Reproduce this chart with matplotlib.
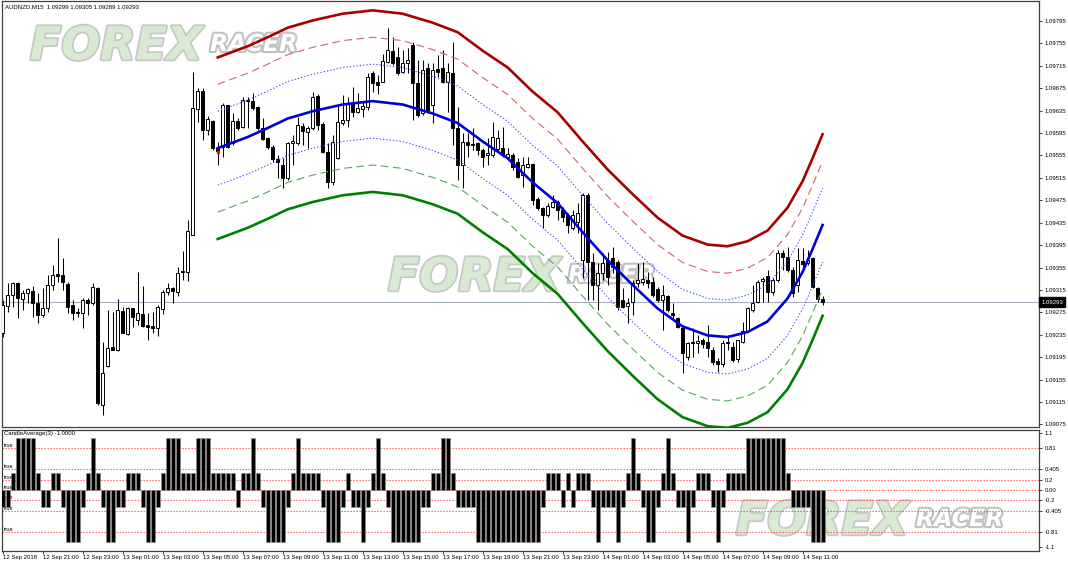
import numpy as np
import matplotlib
matplotlib.use("Agg")
import matplotlib.pyplot as plt
import matplotlib.patheffects as pe
import matplotlib.transforms as mtransforms

plt.rcParams["font.family"] = ["Liberation Sans Narrow", "Liberation Sans", "DejaVu Sans"]

symbol_title = "AUDNZD,M15  1.09299 1.09305 1.09289 1.09293"
indicator_title = "CandleAverage(3) -1.0000"
last_price = 1.09293

# M15 candles, 12 Sep 2018 19:00 .. 14 Sep 2018 12:00
opens = [
    1.09238, 1.09286, 1.09306, 1.09327, 1.09299, 1.09309, 1.09313, 1.09291, 1.09270, 1.09283,
    1.09324, 1.09343, 1.09341, 1.09325, 1.09288, 1.09275, 1.09274, 1.09297, 1.09291, 1.09318,
    1.09109, 1.09179, 1.09213, 1.09208, 1.09277, 1.09236, 1.09283, 1.09261, 1.09272, 1.09252,
    1.09250, 1.09247, 1.09281, 1.09311, 1.09318, 1.09311, 1.09349, 1.09347, 1.09413, 1.09638,
    1.09670, 1.09600, 1.09616, 1.09568, 1.09570, 1.09645, 1.09577, 1.09616, 1.09605, 1.09652,
    1.09652, 1.09641, 1.09604, 1.09586, 1.09570, 1.09548, 1.09538, 1.09514, 1.09577, 1.09577,
    1.09607, 1.09597, 1.09604, 1.09661, 1.09611, 1.09561, 1.09507, 1.09550, 1.09613, 1.09618,
    1.09648, 1.09632, 1.09638, 1.09641, 1.09702, 1.09686, 1.09686, 1.09721, 1.09741, 1.09730,
    1.09704, 1.09720, 1.09752, 1.09684, 1.09630, 1.09711, 1.09645, 1.09709, 1.09711, 1.09686,
    1.09702, 1.09604, 1.09538, 1.09579, 1.09575, 1.09577, 1.09564, 1.09555, 1.09555, 1.09566,
    1.09568, 1.09552, 1.09555, 1.09543, 1.09520, 1.09534, 1.09539, 1.09477, 1.09461, 1.09448,
    1.09463, 1.09472, 1.09457, 1.09448, 1.09425, 1.09436, 1.09368, 1.09484, 1.09365, 1.09324,
    1.09345, 1.09368, 1.09372, 1.09365, 1.09297, 1.09286, 1.09293, 1.09327, 1.09329, 1.09333,
    1.09329, 1.09316, 1.09297, 1.09304, 1.09274, 1.09265, 1.09247, 1.09195, 1.09222, 1.09220,
    1.09225, 1.09222, 1.09208, 1.09188, 1.09183, 1.09220, 1.09213, 1.09192, 1.09222, 1.09242,
    1.09279, 1.09293, 1.09331, 1.09340, 1.09311, 1.09333, 1.09381, 1.09374, 1.09350, 1.09324,
    1.09366, 1.09363, 1.09372, 1.09318, 1.09299,
]
highs = [
    1.09297, 1.09327, 1.09329, 1.09329, 1.09315, 1.09318, 1.09322, 1.09309, 1.09318, 1.09341,
    1.09359, 1.09407, 1.09372, 1.09329, 1.09297, 1.09283, 1.09300, 1.09300, 1.09327, 1.09320,
    1.09222, 1.09279, 1.09275, 1.09299, 1.09284, 1.09284, 1.09283, 1.09347, 1.09322, 1.09274,
    1.09275, 1.09288, 1.09315, 1.09327, 1.09320, 1.09356, 1.09384, 1.09440, 1.09704, 1.09675,
    1.09675, 1.09625, 1.09618, 1.09579, 1.09648, 1.09646, 1.09630, 1.09622, 1.09659, 1.09659,
    1.09666, 1.09643, 1.09622, 1.09588, 1.09573, 1.09555, 1.09550, 1.09579, 1.09591, 1.09623,
    1.09613, 1.09607, 1.09668, 1.09664, 1.09614, 1.09577, 1.09591, 1.09645, 1.09663, 1.09659,
    1.09677, 1.09666, 1.09652, 1.09702, 1.09705, 1.09698, 1.09737, 1.09782, 1.09766, 1.09748,
    1.09743, 1.09746, 1.09757, 1.09725, 1.09725, 1.09720, 1.09720, 1.09734, 1.09743, 1.09720,
    1.09757, 1.09641, 1.09595, 1.09595, 1.09604, 1.09579, 1.09568, 1.09586, 1.09614, 1.09600,
    1.09605, 1.09568, 1.09559, 1.09550, 1.09552, 1.09552, 1.09541, 1.09481, 1.09463, 1.09470,
    1.09484, 1.09475, 1.09463, 1.09452, 1.09457, 1.09470, 1.09488, 1.09488, 1.09381, 1.09363,
    1.09381, 1.09382, 1.09391, 1.09368, 1.09318, 1.09300, 1.09333, 1.09363, 1.09365, 1.09347,
    1.09338, 1.09320, 1.09324, 1.09306, 1.09291, 1.09266, 1.09249, 1.09222, 1.09247, 1.09234,
    1.09229, 1.09252, 1.09213, 1.09193, 1.09225, 1.09234, 1.09222, 1.09225, 1.09258, 1.09284,
    1.09324, 1.09333, 1.09338, 1.09350, 1.09336, 1.09386, 1.09386, 1.09391, 1.09356, 1.09390,
    1.09390, 1.09386, 1.09374, 1.09320, 1.09305,
]
lows = [
    1.09231, 1.09275, 1.09284, 1.09265, 1.09279, 1.09291, 1.09266, 1.09256, 1.09266, 1.09275,
    1.09315, 1.09329, 1.09315, 1.09274, 1.09261, 1.09266, 1.09247, 1.09270, 1.09288, 1.09109,
    1.09092, 1.09177, 1.09208, 1.09206, 1.09238, 1.09234, 1.09249, 1.09252, 1.09249, 1.09225,
    1.09238, 1.09233, 1.09272, 1.09306, 1.09291, 1.09304, 1.09333, 1.09331, 1.09413, 1.09614,
    1.09582, 1.09591, 1.09564, 1.09538, 1.09552, 1.09568, 1.09573, 1.09600, 1.09604, 1.09604,
    1.09636, 1.09600, 1.09582, 1.09566, 1.09543, 1.09514, 1.09497, 1.09511, 1.09538, 1.09573,
    1.09573, 1.09568, 1.09600, 1.09600, 1.09559, 1.09497, 1.09502, 1.09548, 1.09609, 1.09605,
    1.09623, 1.09630, 1.09623, 1.09636, 1.09668, 1.09664, 1.09686, 1.09720, 1.09716, 1.09698,
    1.09702, 1.09702, 1.09618, 1.09623, 1.09627, 1.09630, 1.09613, 1.09695, 1.09684, 1.09632,
    1.09573, 1.09511, 1.09497, 1.09552, 1.09564, 1.09555, 1.09534, 1.09538, 1.09552, 1.09561,
    1.09552, 1.09547, 1.09529, 1.09514, 1.09498, 1.09532, 1.09466, 1.09457, 1.09425, 1.09445,
    1.09461, 1.09440, 1.09436, 1.09416, 1.09422, 1.09416, 1.09336, 1.09297, 1.09297, 1.09279,
    1.09333, 1.09324, 1.09345, 1.09279, 1.09283, 1.09256, 1.09270, 1.09320, 1.09324, 1.09318,
    1.09302, 1.09293, 1.09243, 1.09275, 1.09265, 1.09247, 1.09167, 1.09190, 1.09195, 1.09202,
    1.09211, 1.09195, 1.09181, 1.09168, 1.09177, 1.09208, 1.09186, 1.09186, 1.09220, 1.09240,
    1.09275, 1.09291, 1.09293, 1.09293, 1.09306, 1.09329, 1.09350, 1.09347, 1.09302, 1.09311,
    1.09356, 1.09359, 1.09318, 1.09293, 1.09289,
]
closes = [
    1.09288, 1.09306, 1.09327, 1.09300, 1.09309, 1.09316, 1.09291, 1.09270, 1.09283, 1.09324,
    1.09341, 1.09340, 1.09329, 1.09284, 1.09274, 1.09274, 1.09297, 1.09291, 1.09320, 1.09113,
    1.09167, 1.09211, 1.09208, 1.09279, 1.09238, 1.09283, 1.09266, 1.09274, 1.09250, 1.09249,
    1.09247, 1.09284, 1.09311, 1.09318, 1.09313, 1.09345, 1.09347, 1.09420, 1.09639, 1.09670,
    1.09600, 1.09620, 1.09568, 1.09563, 1.09645, 1.09570, 1.09616, 1.09604, 1.09654, 1.09654,
    1.09639, 1.09604, 1.09584, 1.09570, 1.09548, 1.09543, 1.09514, 1.09577, 1.09580, 1.09609,
    1.09598, 1.09604, 1.09659, 1.09609, 1.09561, 1.09507, 1.09579, 1.09614, 1.09618, 1.09648,
    1.09632, 1.09639, 1.09643, 1.09695, 1.09684, 1.09680, 1.09723, 1.09743, 1.09720, 1.09702,
    1.09720, 1.09725, 1.09684, 1.09627, 1.09707, 1.09636, 1.09707, 1.09704, 1.09686, 1.09704,
    1.09604, 1.09538, 1.09579, 1.09573, 1.09573, 1.09564, 1.09552, 1.09559, 1.09588, 1.09586,
    1.09555, 1.09557, 1.09534, 1.09516, 1.09538, 1.09539, 1.09475, 1.09461, 1.09448, 1.09464,
    1.09472, 1.09457, 1.09445, 1.09431, 1.09448, 1.09452, 1.09484, 1.09365, 1.09324, 1.09345,
    1.09363, 1.09338, 1.09356, 1.09284, 1.09284, 1.09291, 1.09327, 1.09333, 1.09334, 1.09327,
    1.09306, 1.09297, 1.09306, 1.09279, 1.09270, 1.09249, 1.09202, 1.09220, 1.09220, 1.09224,
    1.09218, 1.09211, 1.09186, 1.09183, 1.09220, 1.09222, 1.09190, 1.09225, 1.09242, 1.09283,
    1.09291, 1.09329, 1.09334, 1.09311, 1.09333, 1.09381, 1.09374, 1.09350, 1.09309, 1.09368,
    1.09361, 1.09368, 1.09320, 1.09299, 1.09293,
]

# regression channel: centre line and band half-widths
mid_bars = [43, 49, 53, 57, 62, 68, 74, 80, 86, 91, 96, 101, 106, 111, 116, 121,
            126, 131, 136, 141, 145, 149, 153, 157, 160, 162, 164]
mid_prices = [1.09568, 1.09588, 1.09604, 1.09621, 1.09634, 1.09646, 1.09652, 1.09646,
              1.09630, 1.09613, 1.09580, 1.09550, 1.09507, 1.09470, 1.09418, 1.09368,
              1.09324, 1.09282, 1.09250, 1.09234, 1.09231, 1.09240, 1.09259, 1.09300,
              1.09347, 1.09388, 1.09431]
band_offsets = [0.00066, 0.00114, 0.00162]
marker_bar, marker_price = 43, 1.09561

a = 1 / 3
candle_avg = [
    -a, -a, a, 1, 1, 1, 1, a, -a, -a,
    a, a, -a, -1, -1, -1, -a, a, 1, a,
    -a, -1, -1, -a, -a, a, a, a, -a, -1,
    -1, -a, a, 1, 1, 1, a, a, a, 1,
    1, 1, a, a, a, a, a, -a, a, a,
    1, a, -a, -1, -1, -1, -1, -a, a, 1,
    a, a, a, a, -a, -1, -1, -1, -a, a,
    -a, -a, -1, -a, a, 1, a, -a, -1, -1,
    -1, -1, -1, -1, -a, -a, a, a, 1, 1,
    a, -a, -a, -a, -a, -1, -1, -1, -1, -1,
    -1, -1, -1, -1, -1, -1, -1, -1, -a, a,
    a, a, -a, a, -a, a, a, a, -a, -1,
    -a, -a, -a, -1, -a, a, 1, a, -a, -1,
    -1, -a, a, 1, a, -a, -a, -1, -a, a,
    a, a, -a, -1, -a, a, a, a, a, 1,
    1, 1, 1, 1, 1, 1, 1, a, -a, -a,
    -a, -a, -1, -1, -1,
]
levels = [0.81, 0.405, 0.2, 0.0, -0.2, -0.405, -0.81]
level_ticks = [1.1, 0.81, 0.405, 0.2, 0.0, -0.2, -0.405, -0.81, -1.1]
level_labels = ["1.1", "0.81", "0.405", "0.2", "0.00", "-0.2", "-0.405", "-0.81", "-1.1"]

price_ticks = [1.09795, 1.09755, 1.09715, 1.09675, 1.09635, 1.09595, 1.09555, 1.09515,
               1.09475, 1.09435, 1.09395, 1.09355, 1.09315, 1.09275, 1.09235, 1.09195,
               1.09155, 1.09115, 1.09075]
time_labels = ["12 Sep 2018", "12 Sep 21:00", "12 Sep 23:00", "13 Sep 01:00", "13 Sep 03:00",
               "13 Sep 05:00", "13 Sep 07:00", "13 Sep 09:00", "13 Sep 11:00", "13 Sep 13:00",
               "13 Sep 15:00", "13 Sep 17:00", "13 Sep 19:00", "13 Sep 21:00", "13 Sep 23:00",
               "14 Sep 01:00", "14 Sep 03:00", "14 Sep 05:00", "14 Sep 07:00", "14 Sep 09:00",
               "14 Sep 11:00"]
time_label_bars = list(range(0, 8 * len(time_labels), 8))

W, H = 1068, 564
FS = 4.3
frame = "#404040"


def box(left, top, right, bottom):
    return [left / W, 1 - bottom / H, (right - left) / W, (bottom - top) / H]


fig = plt.figure(figsize=(W / 100, H / 100), dpi=100, facecolor="white")
ax = fig.add_axes(box(1.5, 1, 1039, 427))
ax2 = fig.add_axes(box(1.5, 429.5, 1039, 550.7))
for axis in (ax, ax2):
    axis.set_facecolor("none")
    axis.set_xlim(-0.26, 207.3)
    for s in axis.spines.values():
        s.set_color(frame)
        s.set_linewidth(0.9)
    axis.yaxis.tick_right()
    axis.tick_params(axis="y", direction="out", length=2.5, width=0.7, color=frame,
                     labelsize=FS, pad=1.5)


# watermark logos behind everything
def watermark(x, y):
    fig.text(x / W, 1 - y / H, "FOREX", fontsize=33, fontweight="bold", fontstyle="italic",
             family="DejaVu Sans", color="#D8EAD2", ha="left", va="center", zorder=-5,
             path_effects=[pe.withStroke(linewidth=2.5, foreground="#C5C9C5")])
    fig.text((x + 180) / W, 1 - (y - 3) / H, "RACER", fontsize=17, fontweight="bold",
             fontstyle="italic", family="DejaVu Sans", color="white", ha="left", va="center",
             zorder=-5, path_effects=[pe.withStroke(linewidth=3, foreground="#C2C2C2")])


watermark(30, 47)
watermark(388, 278)
watermark(736, 522)

# candles
idx = np.arange(len(opens))
o, h, l, c = map(np.array, (opens, highs, lows, closes))
up = c >= o
ax.axhline(last_price, color="#A7B1C0", lw=0.8, zorder=1)
ax.vlines(idx, l, h, color="black", lw=0.75, zorder=2)
ax.bar(idx[up], c[up] - o[up], bottom=o[up], width=0.62, facecolor="white",
       edgecolor="black", lw=0.7, zorder=3)
ax.bar(idx[~up], o[~up] - c[~up], bottom=c[~up], width=0.62, facecolor="black",
       edgecolor="black", lw=0.7, zorder=3)

# channel
mid = np.array(mid_prices)
ax.plot(mid_bars, mid + band_offsets[2], color="#A80000", lw=1.9, zorder=4)
ax.plot(mid_bars, mid + band_offsets[1], color="#D06464", lw=0.8, dashes=(7, 4), zorder=4)
ax.plot(mid_bars, mid + band_offsets[0], color="#4D4DFF", lw=0.8, dashes=(1.2, 1.8), zorder=4)
ax.plot(mid_bars, mid, color="#0000D8", lw=1.9, zorder=4)
ax.plot(mid_bars, mid - band_offsets[0], color="#4D4DFF", lw=0.8, dashes=(1.2, 1.8), zorder=4)
ax.plot(mid_bars, mid - band_offsets[1], color="#55A855", lw=0.8, dashes=(7, 4), zorder=4)
ax.plot(mid_bars, mid - band_offsets[2], color="#008000", lw=1.9, zorder=4)
ax.plot([marker_bar], [marker_price], "s", color="red", ms=1.8, zorder=5)

ax.set_ylim(1.090705, 1.098307)
ax.set_yticks(price_ticks)
ax.set_yticklabels([f"{p:.5f}" for p in price_ticks])
ax.set_xticks([])
ax.text(0.003, 1 - 6 / 426, symbol_title, transform=ax.transAxes, fontsize=FS,
        ha="left", va="center")
tr = mtransforms.blended_transform_factory(ax.transAxes, ax.transData)
ax.text(1.002, last_price, f"{last_price:.5f}", transform=tr, fontsize=FS, color="white",
        ha="left", va="center", zorder=10, clip_on=False,
        bbox=dict(boxstyle="square,pad=0.4", facecolor="black", edgecolor="black"))

# indicator window
for lv in levels:
    ax2.axhline(lv, color="#FF5050", lw=0.8, dashes=(1.2, 1.5), zorder=1)
    ax2.text(0.2, lv, "true", fontsize=4.0, ha="left", va="bottom", zorder=1)
ax2.text(0.3, 1.085, indicator_title, fontsize=FS, ha="left", va="center", zorder=1)
ax2.bar(idx, candle_avg, width=0.78, color="black", edgecolor="#8C8C8C", lw=0.4, zorder=3)
ax2.set_ylim(-1.176, 1.172)
ax2.set_yticks(level_ticks)
ax2.set_yticklabels(level_labels)
ax2.set_xticks(time_label_bars)
ax2.set_xticklabels(time_labels)
ax2.tick_params(axis="x", direction="out", length=2, width=0.7, color=frame,
                labelsize=FS, pad=1)
for lbl in ax2.get_xticklabels():
    lbl.set_horizontalalignment("left")

fig.savefig("out.png", dpi=100, facecolor="white")
